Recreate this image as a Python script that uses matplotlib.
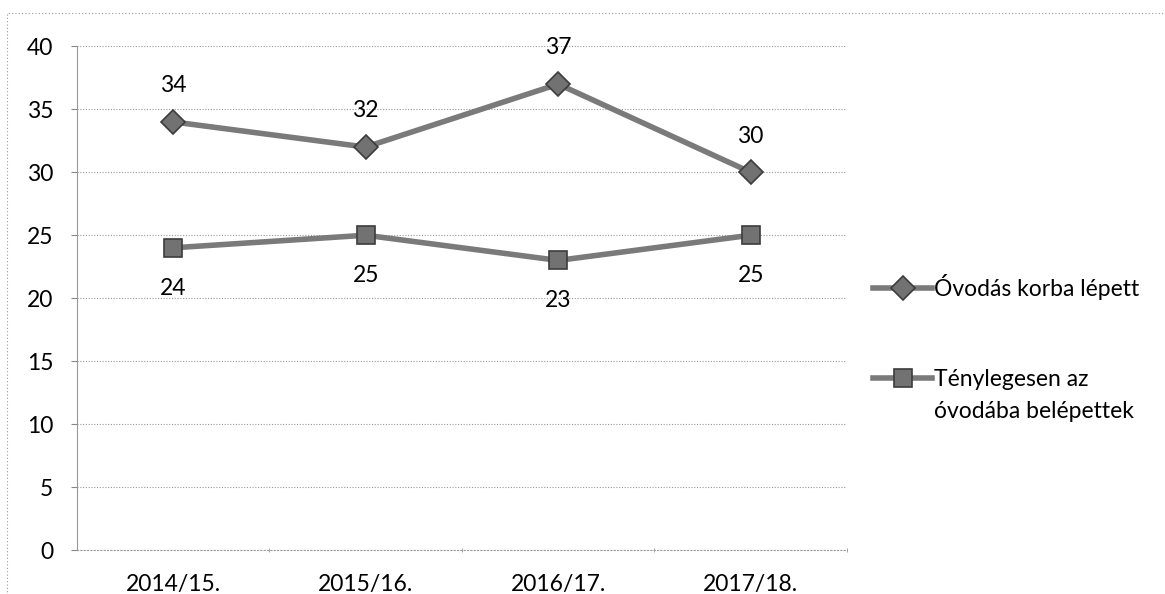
import matplotlib.pyplot as plt
from matplotlib.patches import Rectangle
from matplotlib.lines import Line2D

plt.rcParams['font.family'] = ['Lato', 'DejaVu Sans']

years = ['2014/15.', '2015/16.', '2016/17.', '2017/18.']
korba = [34, 32, 37, 30]
tenyleges = [24, 25, 23, 25]
name1 = 'Óvodás korba lépett'
name2 = ['Ténylegesen az', 'óvodába belépettek']

FS = 16.5
W, H = 1165, 594
fig = plt.figure(figsize=(W / 100, H / 100), dpi=100)
ax = fig.add_axes([0.066, 0.074, 0.661, 0.848])

style1 = dict(color='#7a7a7a', lw=4, marker='D', ms=12,
              mfc='#727272', mec='#3c3c3c', mew=1.2)
style2 = dict(color='#7a7a7a', lw=4, marker='s', ms=13,
              mfc='#727272', mec='#3c3c3c', mew=1.2)

xs = [i + 0.5 for i in range(len(years))]
ax.plot(xs, korba, zorder=3, **style1)
ax.plot(xs, tenyleges, zorder=3, **style2)

for x, v in zip(xs, korba):
    ax.annotate(str(v), (x, v), xytext=(0, 26), textcoords='offset points',
                ha='center', va='center', fontsize=FS)
for x, v in zip(xs, tenyleges):
    ax.annotate(str(v), (x, v), xytext=(0, -29), textcoords='offset points',
                ha='center', va='center', fontsize=FS)

ax.set_xlim(0, 4)
ax.set_ylim(0, 40)
ax.set_yticks(range(0, 41, 5))
ax.set_xticks(xs)
ax.set_xticklabels(years)
ax.set_xticks([1, 2, 3, 4], minor=True)
ax.tick_params(axis='x', which='major', labelsize=FS, length=0, pad=17)
ax.tick_params(axis='x', which='minor', length=3, direction='inout', color='#999999')
ax.tick_params(axis='y', labelsize=FS, length=4, direction='out', color='#888888', pad=13)
ax.grid(axis='y', color='#999999', ls=(0, (1, 1.5)), lw=0.8)
for s in ['top', 'right']:
    ax.spines[s].set_visible(False)
ax.spines['left'].set_color('#999999')
ax.spines['left'].set_linestyle((0, (2, 1)))
ax.spines['bottom'].set_color('#999999')
ax.spines['bottom'].set_linestyle((0, (1, 2)))

# legend, drawn by hand so the marker sits on the first text line
def legend_item(y_px, style, lines):
    y = 1 - y_px / H
    fig.add_artist(Line2D([873 / W, 903 / W, 932 / W], [y, y, y],
                          transform=fig.transFigure, markevery=[1], **style))
    for k, line in enumerate(lines):
        fig.text(934 / W, 1 - (y_px + 8 + 32 * k) / H, line, fontsize=FS,
                 ha='left', va='baseline')

legend_item(288, style1, [name1])
legend_item(378, style2, name2)

fig.patches.append(Rectangle((0.006, -0.1), 1.2, 1.078, transform=fig.transFigure,
                             fill=False, ec='#999999', lw=0.8, ls=(0, (1, 2))))

fig.savefig('out.png', dpi=100)
